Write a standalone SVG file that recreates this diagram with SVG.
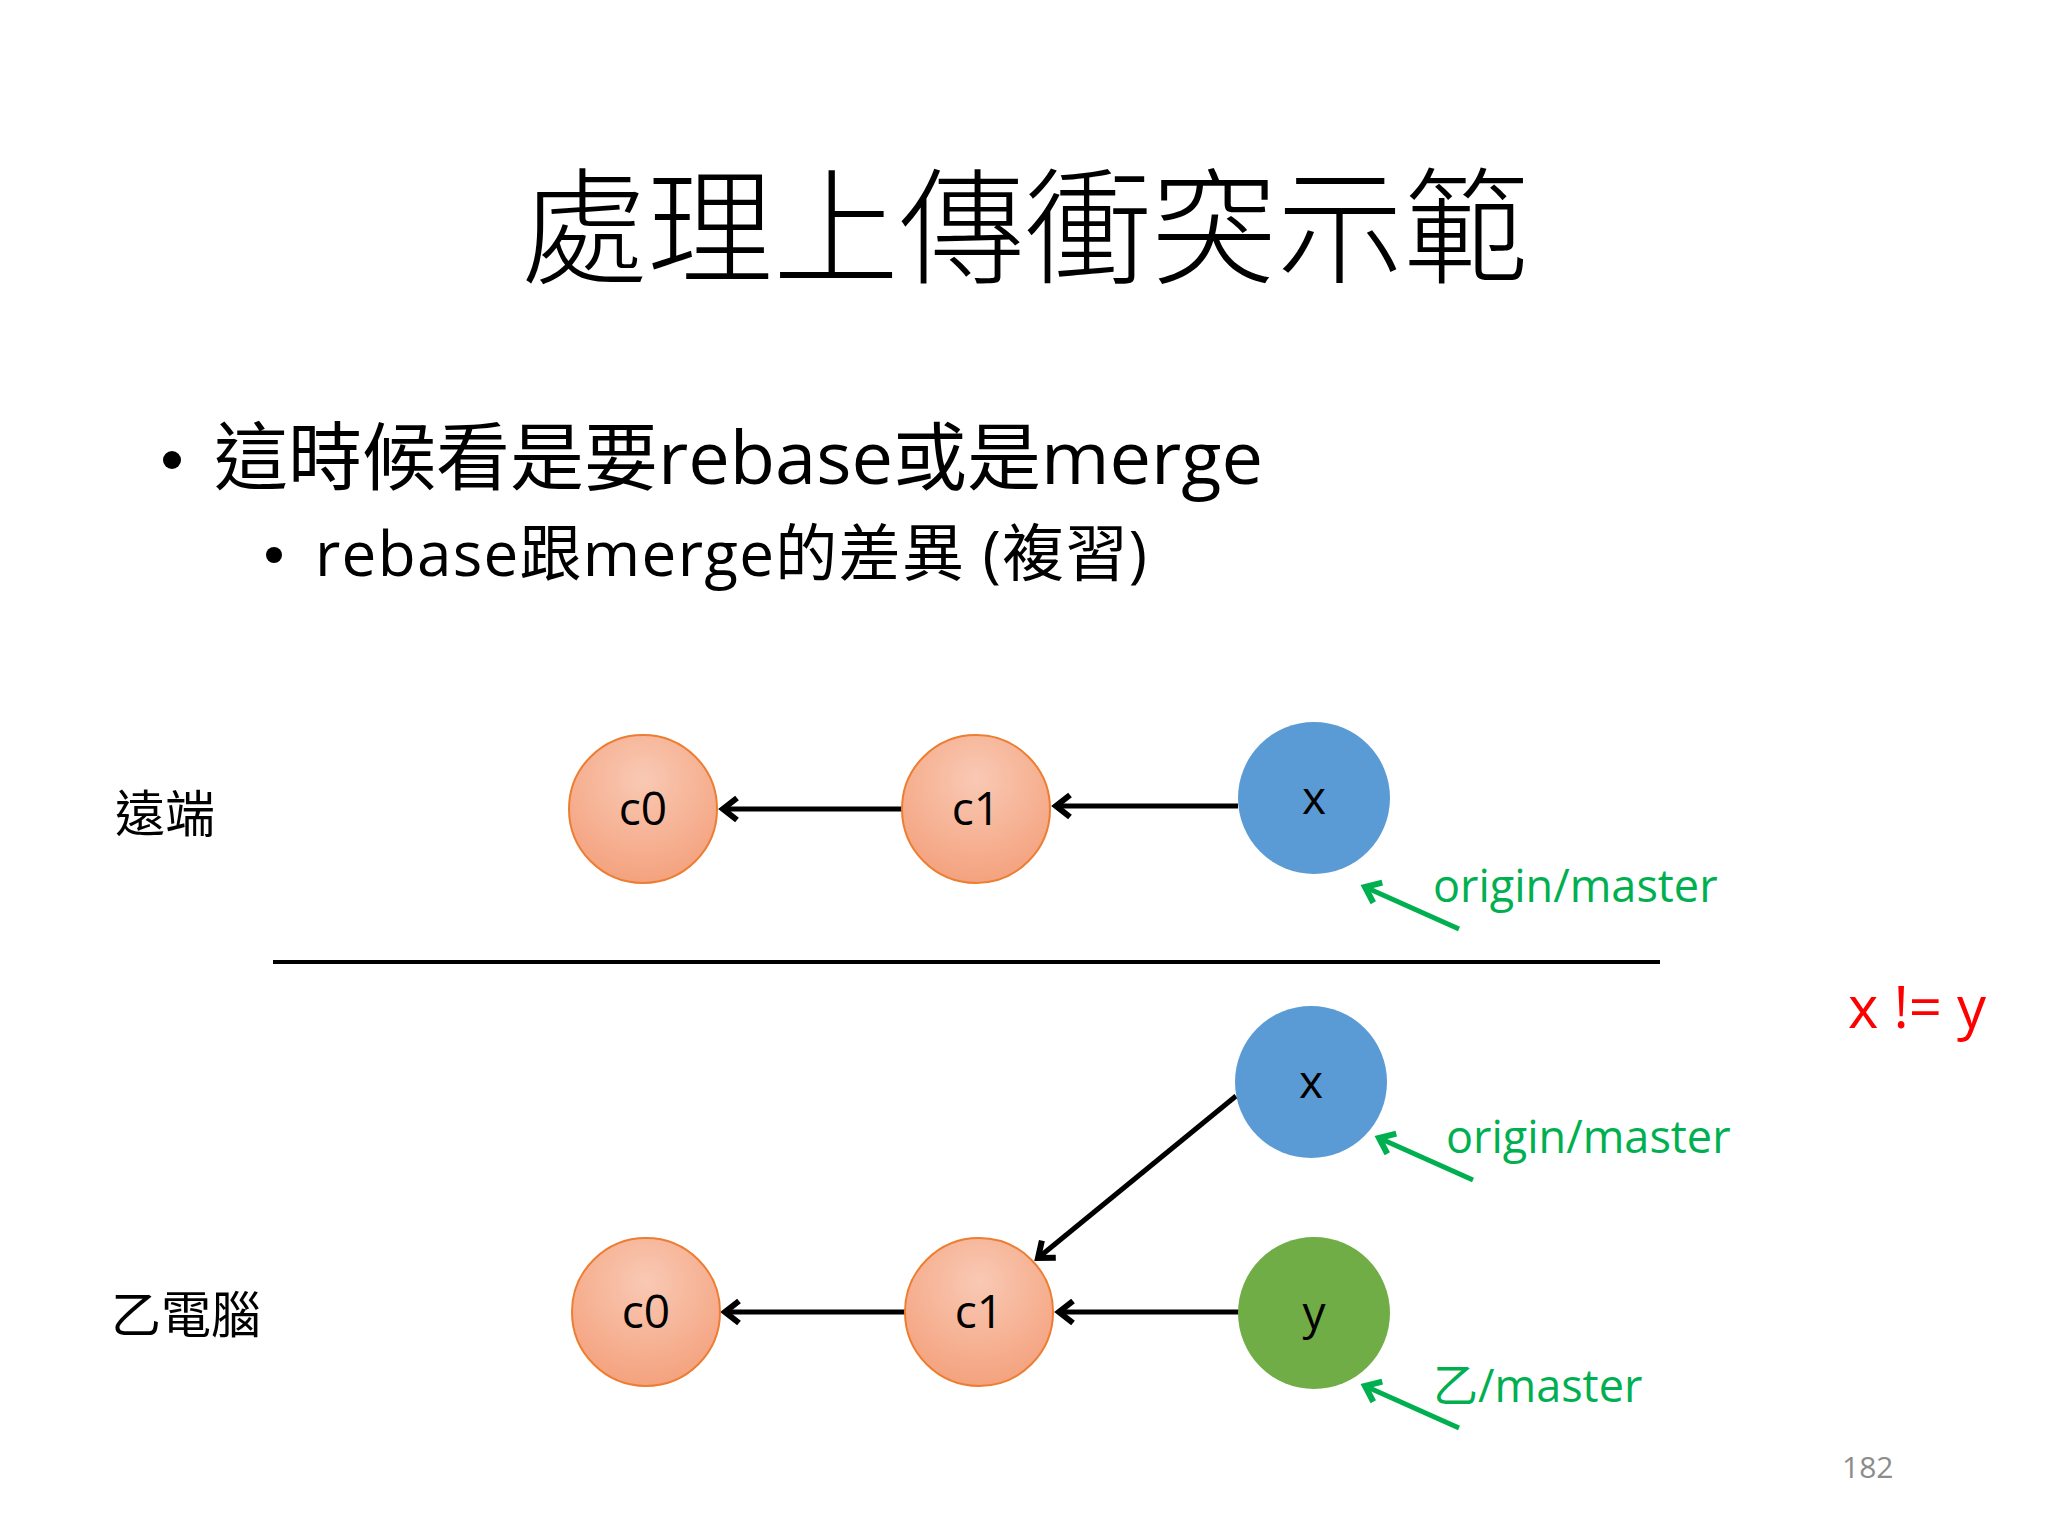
<svg xmlns="http://www.w3.org/2000/svg" width="2048" height="1536" viewBox="0 0 2048 1536">
<style>
text{font-family:"Open Sans","Noto Sans CJK TC",sans-serif}
.lbl{font-size:46px;fill:#000;text-anchor:middle}
.or{fill:url(#og);stroke:#ed7d31;stroke-width:2}
.gl{font-size:45px;fill:#00b050}
.ar{stroke:#000;stroke-width:5;fill:none;marker-end:url(#ah)}
.ga{stroke:#00b050;stroke-width:5;fill:none;marker-end:url(#gh)}
</style>
<defs>
<radialGradient id="og" cx="0.5" cy="0.3" r="0.7"><stop offset="0" stop-color="#f9c9b4"/><stop offset="1" stop-color="#f4a27e"/></radialGradient>
<marker id="ah" viewBox="0 0 30 30" refX="24" refY="15" markerWidth="30" markerHeight="30" orient="auto" markerUnits="userSpaceOnUse"><path d="M10,4 L24,15 L10,26" fill="none" stroke="#000" stroke-width="6" stroke-linejoin="miter"/></marker>
<marker id="gh" viewBox="0 0 30 30" refX="24" refY="15" markerWidth="30" markerHeight="30" orient="auto" markerUnits="userSpaceOnUse"><path d="M10,4 L24,15 L10,26" fill="none" stroke="#00b050" stroke-width="6"/></marker>
</defs>
<rect width="2048" height="1536" fill="#fff"/>
<g transform="translate(-3,-4)">
<text x="1028" y="278" font-size="126" text-anchor="middle" style="font-family:'Noto Sans CJK TC',sans-serif;font-weight:300">處理上傳衝突示範</text>
<circle cx="175" cy="464" r="9" fill="#000"/>
<text x="217" y="488" font-size="74">這時候看是要rebase或是merge</text>
<circle cx="277" cy="559" r="8" fill="#000"/>
<text x="318" y="580" font-size="62" textLength="832">rebase跟merge的差異 (複習)</text>
<text x="118" y="836" font-size="50">遠端</text>
<text x="114" y="1337" font-size="50">乙電腦</text>
<line x1="276" y1="966" x2="1663" y2="966" stroke="#000" stroke-width="4"/>
<g id="connectors">
<line class="ar" x1="906" y1="813" x2="726" y2="813"/>
<line class="ar" x1="1241" y1="810" x2="1059" y2="810"/>
<line class="ar" x1="909" y1="1316" x2="728" y2="1316"/>
<line class="ar" x1="1242" y1="1316" x2="1062" y2="1316"/>
<line class="ar" x1="1239" y1="1100" x2="1041" y2="1262"/>
<line class="ga" x1="1462" y1="933" x2="1368" y2="891"/>
<line class="ga" x1="1476" y1="1184" x2="1382" y2="1142"/>
<line class="ga" x1="1462" y1="1432" x2="1368" y2="1390"/>
</g>
<g id="top-c0"><circle class="or" cx="646" cy="813" r="74"/><text class="lbl" x="646" y="829">c0</text></g>
<g id="top-c1"><circle class="or" cx="979" cy="813" r="74"/><text class="lbl" x="979" y="829">c1</text></g>
<g id="top-x"><circle cx="1317" cy="802" r="76" fill="#5b9bd5"/><text class="lbl" x="1317" y="818">x</text></g>
<g id="bot-x"><circle cx="1314" cy="1086" r="76" fill="#5b9bd5"/><text class="lbl" x="1314" y="1102">x</text></g>
<g id="bot-y"><circle cx="1317" cy="1317" r="76" fill="#70ad47"/><text class="lbl" x="1317" y="1333">y</text></g>
<g id="bot-c1"><circle class="or" cx="982" cy="1316" r="74"/><text class="lbl" x="982" y="1332">c1</text></g>
<g id="bot-c0"><circle class="or" cx="649" cy="1316" r="74"/><text class="lbl" x="649" y="1332">c0</text></g>
<text class="gl" x="1436" y="906">origin/master</text>
<text class="gl" x="1449" y="1157">origin/master</text>
<text class="gl" x="1436" y="1406">乙/master</text>
<text x="1851" y="1032" font-size="58" fill="#ff0000">x != y</text>
<text x="1845" y="1482" font-size="30" fill="#8c8c8c">182</text>
</g>
</svg>
